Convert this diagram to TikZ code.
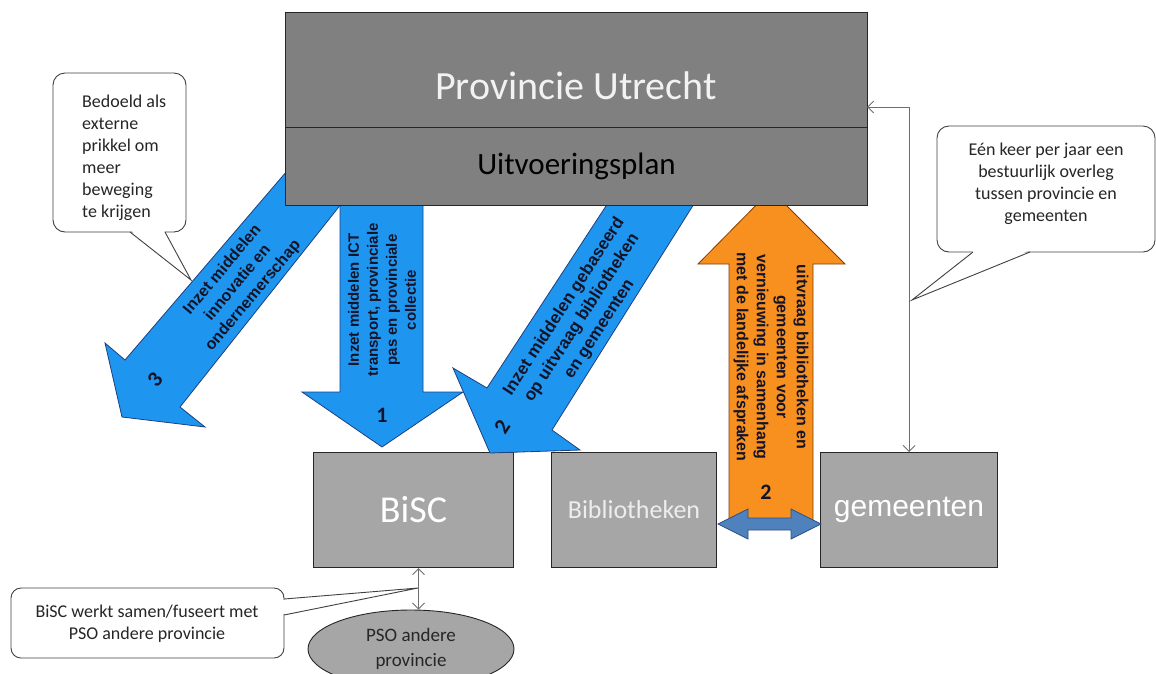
\documentclass[tikz,border=0pt]{standalone}
\usepackage{fontspec}
\setmainfont{Carlito}
\newfontfamily\arialf{Liberation Sans}
\usetikzlibrary{arrows.meta,shapes.geometric}
\definecolor{boxdark}{HTML}{808080}
\definecolor{boxlight}{HTML}{A6A6A6}
\definecolor{arrowblue}{HTML}{1E96F0}
\definecolor{blueline}{HTML}{1F3F7F}
\definecolor{orangef}{HTML}{F7901E}
\definecolor{orangeline}{HTML}{7F3F0F}
\definecolor{steel}{HTML}{4F81BD}
\definecolor{steelline}{HTML}{2F4F7F}
\definecolor{linegray}{HTML}{6E6E6E}
\definecolor{textdark}{HTML}{141428}
\definecolor{calltext}{HTML}{262626}
\begin{document}
\begin{tikzpicture}[x=1pt,y=-1pt,
  darkbox/.style={draw=black!85,line width=1pt,fill=boxdark,inner sep=0pt,anchor=north west},
  lightbox/.style={draw=black!85,line width=1pt,fill=boxlight,inner sep=0pt,anchor=north west},
  bluearrow/.style={fill=arrowblue,draw=blueline,line width=0.8pt},
  orangearrow/.style={fill=orangef,draw=orangeline,line width=0.8pt},
  steelarrow/.style={fill=steel,draw=steelline,line width=0.8pt},
  arrowtext/.style={font=\arialf\bfseries\fontsize{15}{19}\selectfont,text=textdark,align=center,inner sep=0pt},
  callout/.style={draw=black!75,line width=0.9pt,fill=white,rounded corners=12pt},
  calloutline/.style={draw=black!75,line width=0.9pt},
  callouttext/.style={font=\fontsize{18}{22}\selectfont,text=calltext,inner sep=0pt},
  conn/.style={draw=linegray,line width=0.9pt,{Straight Barb[length=6pt,width=12pt]}-{Straight Barb[length=6pt,width=12pt]}},
  numtext/.style={font=\bfseries\fontsize{22}{26}\selectfont,text=textdark,inner sep=0pt}
]
\useasboundingbox (0,0) rectangle (1156,673);

% lower boxes
\node[lightbox,minimum width=200pt,minimum height=115pt,font=\fontsize{38}{44}\selectfont,text=white] (bisc) at (313,452) {BiSC};
\node[lightbox,minimum width=165pt,minimum height=115pt,font=\fontsize{26}{30}\selectfont,text=white!93!black] (bib) at (551,452) {Bibliotheken};
\node[lightbox,minimum width=177pt,minimum height=115pt,font=\arialf\fontsize{30}{34}\selectfont,text=white] (gem) at (820,452) {gemeenten};
\node[ellipse,draw=black!85,line width=0.9pt,fill=boxlight,minimum width=206pt,minimum height=78pt,inner sep=0pt,align=center,font=\fontsize{19}{25}\selectfont,text=calltext] (pso) at (411,649) {PSO andere\\provincie};

% arrows
\path[bluearrow] (305,150) -- (384,150) -- (180,407) -- (205,427) -- (122,417) -- (105,343) -- (125,360) -- cycle;
\path[bluearrow] (340,150) -- (423,150) -- (423,392) -- (463,392) -- (382,447) -- (302,392) -- (340,392) -- cycle;
\path[bluearrow] (623,180) -- (709,180) -- (552,430) -- (580,450) -- (490,453) -- (453,368) -- (487,388) -- cycle;
\path[orangearrow] (729,520) -- (729,264) -- (698,264) -- (771,190) -- (845,264) -- (813,264) -- (813,520) -- cycle;
\path[steelarrow] (718,524) -- (748,509) -- (748,518) -- (791,518) -- (791,509) -- (821,524) -- (791,539) -- (791,530) -- (748,530) -- (748,539) -- cycle;

% top box
\node[darkbox,minimum width=582pt,minimum height=115pt] (prov) at (285,12) {};
\node[darkbox,minimum width=582pt,minimum height=78pt,font=\fontsize{31}{35}\selectfont,text=black] (uitv) at (285,127) {Uitvoeringsplan};
\node[font=\fontsize{40}{46}\selectfont,text=white!95!black,anchor=base,inner sep=0pt] (provt) at (576,99) {Provincie Utrecht};

% arrow texts
\node[arrowtext,rotate=90] (t1) at (382,300) {Inzet middelen ICT\\transport, provinciale\\pas en provinciale\\collectie};
\node[arrowtext,rotate=50,font=\arialf\bfseries\fontsize{16}{20}\selectfont] (t3) at (238,283) {Inzet middelen\\innovatie en\\ondernemerschap};
\node[arrowtext,rotate=57,font=\arialf\bfseries\fontsize{17}{21}\selectfont] (t2) at (582,318) {Inzet middelen gebaseerd\\op uitvraag bibliotheken\\en gemeenten};
\node[arrowtext,rotate=-90,font=\arialf\bfseries\fontsize{16}{20}\selectfont] (to) at (771,357) {uitvraag bibliotheken en\\gemeenten voor\\vernieuwing in samenhang\\met de landelijke afspraken};
\node[numtext] (n1) at (382,415) {1};
\node[numtext,rotate=57] (n2b) at (502,427) {2};
\node[numtext,rotate=50] (n3) at (155,380) {3};
\node[numtext] (n2o) at (766,492) {2};

% connectors
\coordinate (provR) at (867,107);
\draw[conn] (gem.north) |- (provR);
\draw[conn] ([xshift=5pt]bisc.south) -- ([xshift=5pt]bisc.south |- pso.north);

% callout top left
\coordinate (c1tip) at (191,280);
\draw[callout] (53,73) rectangle (186,232);
\fill[white] (131,230.5) -- (164,230.5) -- (c1tip) -- cycle;
\draw[calloutline] (130,232) -- (c1tip) -- (165,232);
\node[callouttext,align=left,anchor=west] (c1) at (82,158) {Bedoeld als\\externe\\prikkel om\\meer\\beweging\\te krijgen};

% callout right
\coordinate (c2tip) at (912,300);
\draw[callout] (937,126) rectangle (1155,252);
\fill[white] (974,250.5) -- (1029,250.5) -- (c2tip) -- cycle;
\draw[calloutline] (973,252) -- (c2tip) -- (1030,252);
\node[callouttext,align=center] (c2) at (1046,184) {Eén keer per jaar een\\bestuurlijk overleg\\tussen provincie en\\gemeenten};

% callout bottom left
\coordinate (c3tip) at (418,588);
\draw[callout,rounded corners=10pt] (11,588) rectangle (284,658);
\fill[white] (282.5,600) -- (c3tip) -- (282.5,614) -- cycle;
\draw[calloutline] (284,599) -- (c3tip) -- (284,615);
\node[callouttext,align=center] (c3) at (147,624) {BiSC werkt samen/fuseert met\\PSO andere provincie};
\end{tikzpicture}
\end{document}
